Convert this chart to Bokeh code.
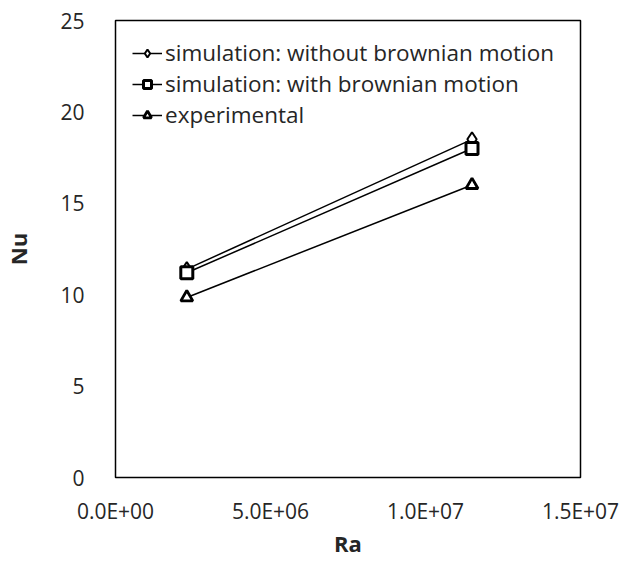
from bokeh.plotting import figure
from bokeh.models import FixedTicker, Legend, LegendItem
from bokeh.embed import file_html
from bokeh.resources import INLINE

ra = [2.3e6, 11.5e6]
nu_without = [11.4, 18.5]
nu_with = [11.2, 18.0]
nu_exp = [9.85, 16.0]

x_ticks = [0, 5e6, 1e7, 1.5e7]
x_tick_labels = ["0.0E+00", "5.0E+06", "1.0E+07", "1.5E+07"]
y_ticks = [0, 5, 10, 15, 20, 25]

FONT = "Open Sans"
TXT = "#262626"

p = figure(width=621, height=562, output_backend="svg", toolbar_location=None,
           x_range=(0, 1.5e7), y_range=(0, 25),
           min_border_left=115, min_border_right=41, min_border_top=20, min_border_bottom=85)
p.background_fill_color = "white"
p.border_fill_color = "white"
p.outline_line_color = "black"
p.outline_line_width = 1.5
p.grid.visible = False

r1l = p.line(ra, nu_without, line_color="black", line_width=1.5)
r1m = p.scatter(ra, nu_without, marker="diamond", size=14, fill_color="white", line_color="black", line_width=2)
r2l = p.line(ra, nu_with, line_color="black", line_width=1.5)
r2m = p.scatter(ra, nu_with, marker="square", size=12, fill_color="white", line_color="black", line_width=3)
r3l = p.line(ra, nu_exp, line_color="black", line_width=1.5)
r3m = p.scatter(ra, nu_exp, marker="triangle", size=12, fill_color="white", line_color="black", line_width=2.8)

for ax in (p.xaxis[0], p.yaxis[0]):
    ax.axis_line_color = None
    ax.major_tick_line_color = None
    ax.minor_tick_line_color = None
    ax.major_label_text_font = FONT
    ax.major_label_text_font_size = "21px"
    ax.major_label_text_color = TXT
    ax.axis_label_text_font = FONT
    ax.axis_label_text_font_size = "22px"
    ax.axis_label_text_font_style = "bold"
    ax.axis_label_text_color = TXT

p.xaxis.ticker = FixedTicker(ticks=x_ticks)
p.xaxis.major_label_overrides = {t: s for t, s in zip(x_ticks, x_tick_labels)}
p.xaxis.major_label_standoff = 13
p.xaxis.axis_label = "Ra"
p.xaxis.axis_label_standoff = 0

p.yaxis.ticker = FixedTicker(ticks=y_ticks)
p.yaxis.major_label_standoff = 25
p.yaxis.axis_label = "Nu"
p.yaxis.axis_label_standoff = 24

legend = Legend(items=[
    LegendItem(label="simulation: without brownian motion", renderers=[r1l, r1m]),
    LegendItem(label="simulation: with brownian motion", renderers=[r2l, r2m]),
    LegendItem(label="experimental", renderers=[r3l, r3m]),
], location="top_left")
legend.border_line_color = None
legend.background_fill_alpha = 0
legend.label_text_font = FONT
legend.label_text_font_size = "22.5px"
legend.label_text_color = TXT
legend.glyph_width = 30
legend.glyph_height = 20
legend.spacing = 0
legend.margin = 17
legend.padding = 10
legend.label_standoff = 3
p.add_layout(legend)

open("out.html", "w").write(file_html(p, INLINE))
